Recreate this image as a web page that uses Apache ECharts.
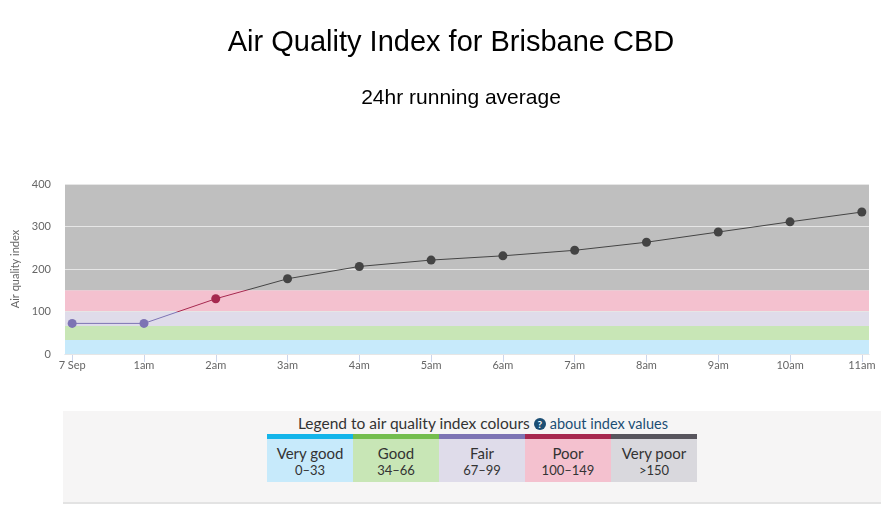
<!DOCTYPE html>
<html lang="en">

<head>
  <meta charset="UTF-8">
  <script src="https://cdn.jsdelivr.net/npm/echarts@6.0.0/dist/echarts.min.js"></script>
  <style>
    body,
    html {
      margin: 0;
      padding: 0;
      width: 881px;
      height: 529px;
      background: #fff;
      overflow: hidden;
    }

    #main {
      position: absolute;
      left: 0;
      top: 0;
      width: 881px;
      height: 400px;
    }

    .legend {
      position: absolute;
      left: 63px;
      top: 411px;
      width: 818px;
      height: 91px;
      background: #f6f5f5;
      border-bottom: 2px solid #e3e3e3;
      font-family: Lato, "Open Sans", sans-serif;
      color: #333;
    }

    .legend .head {
      position: absolute;
      top: 3px;
      left: 0;
      width: 100%;
      text-align: center;
      font-size: 15.5px;
      margin-left: 11px;
    }

    .legend .head .q {
      display: inline-block;
      width: 12px;
      height: 12px;
      border-radius: 50%;
      background: #1b4e74;
      color: #fff;
      font-size: 10px;
      line-height: 12px;
      font-weight: bold;
      text-align: center;
      vertical-align: 1px;
    }

    .legend .head a {
      color: #1b4e74;
      text-decoration: none;
      font-size: 14.5px;
    }

    .legend table {
      position: absolute;
      left: 204px;
      top: 23px;
      border-collapse: collapse;
    }

    .legend td {
      width: 86px;
      height: 43px;
      padding: 0;
      text-align: center;
      vertical-align: top;
      border-top: 5px solid;
      font-size: 15px;
      line-height: 18px;
    }

    .legend td div {
      padding-top: 5px;
    }

    .legend td small {
      font-size: 13px;
      display: block;
      line-height: 17px;
    }
  </style>
</head>

<body>
  <div id="main"></div>
  <div class="legend">
    <div class="head">Legend to air quality index colours <span class="q">?</span> <a href="#">about index values</a></div>
    <table>
      <tr id="legendRow"></tr>
    </table>
  </div>
  <script type="text/javascript">
    // readings, hourly
    var hours = ['7 Sep', '1am', '2am', '3am', '4am', '5am', '6am', '7am', '8am', '9am', '10am', '11am'];
    var aqi = [72, 72, 130, 177, 206, 221, 231, 244, 263, 287, 311, 334];

    // index bands
    var bandNames = ['Very good', 'Good', 'Fair', 'Poor', 'Very poor'];
    var bandRanges = ['0\u201333', '34\u201366', '67\u201399', '100\u2013149', '>150'];
    var bandLow = [0, 33, 66, 99, 150];
    var bandHigh = [33, 66, 99, 150, 400];
    var bandFill = ['#c7eafb', '#c8e6b6', '#dfdcea', '#f4c1cf', '#bfbfbf'];
    var bandStripe = ['#13b5ea', '#74bd4e', '#7d74b4', '#a6284f', '#58555d'];
    var bandCell = ['#c7eafb', '#c8e6b6', '#dfdcea', '#f4c1cf', '#d9d8dd'];
    var markerColor = ['#7d74b4', '#7d74b4', '#7d74b4', '#a6284f', '#444444'];

    var row = document.getElementById('legendRow');
    bandNames.forEach(function (n, i) {
      var td = document.createElement('td');
      td.style.background = bandCell[i];
      td.style.borderTopColor = bandStripe[i];
      td.innerHTML = '<div>' + n + '<small>' + bandRanges[i] + '</small></div>';
      row.appendChild(td);
    });

    var myChart = echarts.init(document.getElementById('main'));

    var points = aqi.map(function (v, i) { return [i, v]; });
    var bands = bandLow.map(function (lo, i) {
      return [{ yAxis: lo, itemStyle: { color: bandFill[i] } }, { yAxis: bandHigh[i] }];
    });

    const option = {
      animation: false,
      backgroundColor: '#fff',
      title: [{
        text: 'Air Quality Index for Brisbane CBD',
        left: 446,
        top: 23,
        textAlign: 'center',
        textStyle: { fontFamily: 'Liberation Sans', fontSize: 29, fontWeight: 'normal', color: '#000' }
      }, {
        text: '24hr running average',
        left: 456,
        top: 83,
        textAlign: 'center',
        textStyle: { fontFamily: 'Liberation Sans', fontSize: 21, fontWeight: 'normal', color: '#000' }
      }],
      grid: { left: 65, right: 12, top: 184, bottom: 46 },
      xAxis: {
        type: 'value',
        min: -0.1,
        max: 11.1,
        splitLine: { show: false },
        axisLine: { lineStyle: { color: '#ccd6eb' } },
        axisTick: { customValues: hours.map(function (h, i) { return i; }), length: 8, lineStyle: { color: '#ccd6eb' } },
        axisLabel: {
          customValues: hours.map(function (h, i) { return i; }),
          formatter: function (v) { return hours[Math.round(v)]; },
          color: '#666', fontFamily: 'Lato', fontSize: 11, margin: 6
        }
      },
      yAxis: {
        type: 'value',
        min: 0,
        max: 400,
        interval: 100,
        z: 2,
        name: 'Air quality index',
        nameLocation: 'middle',
        nameGap: 43,
        nameTextStyle: { color: '#666', fontFamily: 'Lato', fontSize: 11 },
        axisLine: { show: false },
        axisTick: { show: false },
        axisLabel: { color: '#666', fontFamily: 'Lato', fontSize: 11, margin: 14 },
        splitLine: { lineStyle: { color: '#e6e6e6', width: 1 } }
      },
      visualMap: {
        show: false,
        type: 'piecewise',
        dimension: 1,
        seriesIndex: 1,
        pieces: [
          { lt: 100, color: markerColor[0] },
          { gte: 100, lt: 150, color: markerColor[3] },
          { gte: 150, color: markerColor[4] }
        ]
      },
      series: [{
        type: 'line',
        data: [],
        z: 1,
        silent: true,
        markArea: { silent: true, data: bands }
      }, {
        type: 'line',
        z: 3,
        data: points,
        symbol: 'circle',
        symbolSize: 9,
        lineStyle: { width: 1 }
      }]
    };

    myChart.setOption(option);
  </script>
</body>

</html>
